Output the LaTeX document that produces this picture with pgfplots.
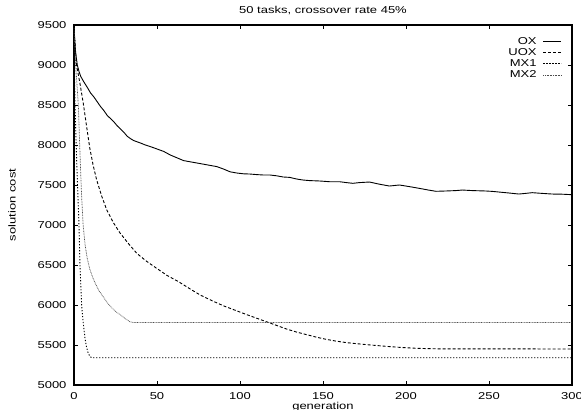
\documentclass[border=0pt]{standalone}
\usepackage{fontspec}
\setmainfont{Liberation Sans}[FakeStretch=1.3]
\usepackage{pgfplots}
\pgfplotsset{compat=1.18}
\begin{document}
\fontsize{10}{11}\selectfont
\begin{tikzpicture}
\begin{axis}[
  scale only axis, width=498pt, height=360pt,
  xmin=0, xmax=300, ymin=5000, ymax=9500,
  xtick={0,50,...,300}, ytick={5000,5500,...,9500},
  tick align=inside, major tick length=4pt,
  tick style={line width=0.8pt, black},
  axis line style={line width=1.2pt},
  /pgf/number format/assume math mode=true,
  /pgf/number format/1000 sep={},
  tick label style={font=\fontsize{10}{11}\selectfont},
  xticklabel style={yshift=-4pt},
  yticklabel style={xshift=-4pt},
  title={50 tasks, crossover rate 45\%},
  every axis title/.style={at={(axis description cs:0.5,1)}, anchor=base, yshift=11pt, inner sep=0pt},
  xlabel={generation},
  every axis x label/.style={at={(axis description cs:0.5,0)}, anchor=north, yshift=-17pt, inner sep=0pt},
  ylabel={solution cost},
  every axis y label/.style={at={(axis description cs:-0.1245,0.5)}, anchor=center, rotate=90, inner sep=0pt},
  legend style={draw=none, fill=none, at={(0.986,0.975)}, anchor=north east,
    font=\fontsize{10}{11}\selectfont, row sep=0pt, column sep=5pt, nodes={inner sep=1.3pt}},
  legend cell align=right,
  legend plot pos=right,
  legend image code/.code={\draw[#1] (0pt,0pt) -- (18pt,0pt);},
]
\addplot[black, line width=0.9pt] coordinates {
(0,9460) (1,9150) (2,9000) (3,8920) (4,8860) (5.6,8800) (8,8720) (10,8650)
(12,8600) (14,8540) (16,8480) (18,8430) (20,8370) (22,8330) (24,8290) (26,8240)
(28,8200) (30,8160) (32,8110) (34,8080) (36,8055) (38,8040) (40,8025) (43,8000)
(46,7980) (50,7950) (54,7920) (58,7875) (62,7840) (66,7805) (70,7790) (74,7775)
(78,7760) (82,7745) (86,7730) (90,7700) (94,7665) (98,7650) (102,7640) (106,7637)
(110,7630) (114,7625) (118,7625) (122,7615) (126,7600) (130,7595) (134,7575)
(138,7562) (142,7555) (148,7550) (154,7541) (160,7541) (164,7530) (168,7521)
(172,7530) (178,7537) (184,7510) (190,7487) (196,7500) (202,7480) (208,7458)
(214,7435) (218,7421) (224,7425) (230,7430) (234,7437) (240,7430) (248,7425)
(252,7420) (256,7412) (262,7400) (268,7387) (272,7395) (276,7404) (282,7395)
(288,7387) (294,7385) (300,7379)
};
\addlegendentry{OX}
\addplot[black, line width=0.9pt, dash pattern=on 3pt off 2pt] coordinates {
(0,9460) (1.5,9000) (3.5,8780) (5.6,8520) (7.6,8230) (9.6,7950) (11.6,7740)
(13.7,7560) (16.7,7360) (19.7,7190) (23.7,7030) (27.7,6900) (32.7,6770)
(37.8,6646) (43.8,6545) (49.8,6458) (56,6370) (63,6291) (70,6200) (76,6125)
(83,6055) (90,5990) (97,5935) (104,5880) (110,5835) (116,5790) (122,5745)
(128,5700) (134,5662) (140,5630) (146,5598) (152,5570) (158,5548) (164,5530)
(170,5517) (176,5505) (183,5492) (190,5480) (198,5468) (205,5460) (212,5455)
(220,5452) (300,5450)
};
\addlegendentry{UOX}
\addplot[black, line width=0.9pt, dash pattern=on 1.2pt off 1.8pt] coordinates {
(0,9460) (0.3,9000) (0.6,8500) (1.6,7810) (2.3,7400) (3,7000) (3.6,6500)
(4.6,6000) (5.6,5770) (6.6,5590) (7.4,5490) (8.2,5420) (9,5380) (9.6,5354)
(11,5340) (300,5340)
};
\addlegendentry{MX1}
\addplot[black!70, line width=0.7pt, dash pattern=on 0.8pt off 0.8pt] coordinates {
(0,9460) (1,9000) (2.6,8500) (3.6,7900) (4.5,7400) (5.5,7000) (6.7,6750) (8,6580)
(9.5,6450) (11,6360) (12.6,6280) (15,6180) (17.7,6100) (20,6030) (22.5,5970)
(25,5920) (27.7,5880) (30.5,5835) (33.7,5790) (36,5780) (300,5780)
};
\addlegendentry{MX2}
\end{axis}
\pgfresetboundingbox
\path[use as bounding box] ([xshift=-74pt,yshift=-25pt]current axis.south west) rectangle ([xshift=9pt,yshift=25pt]current axis.north east);
\end{tikzpicture}
\end{document}
